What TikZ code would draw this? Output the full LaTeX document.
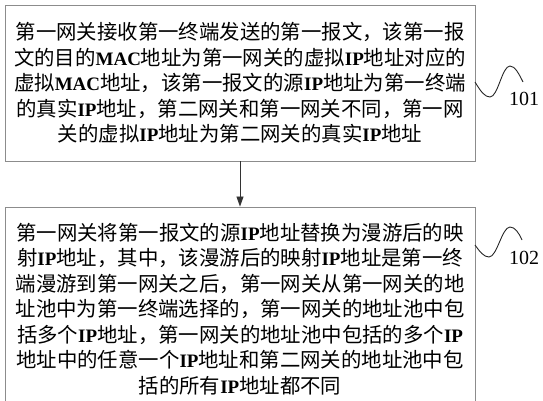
\documentclass[tikz,border=0pt]{standalone}
\usepackage{fontspec}
\setmainfont{Liberation Serif}
\newfontfamily\cjk{Noto Sans CJK SC}
\newfontfamily\enfont{Liberation Serif}
\newcommand\en[1]{{\enfont\bfseries\fontsize{19}{25.5}\selectfont #1}}
\usetikzlibrary{arrows.meta}
\definecolor{boxgray}{gray}{0.55}
\tikzset{
  stepbox/.style={draw=boxgray, line width=0.9pt, minimum width=470pt, inner sep=0pt,
    align=center, font=\cjk\fontsize{20.4}{25.5}\selectfont, text=black},
  flowarrow/.style={draw=black!80, line width=0.8pt, -{Triangle[length=10pt,width=7pt]}},
  wave/.style={draw=black!85, line width=0.9pt},
  steplabel/.style={font=\rmfamily\fontsize{20}{22}\selectfont, inner sep=0pt}
}
\begin{document}
\begin{tikzpicture}[x=1pt,y=-1pt]
\useasboundingbox (0,0) rectangle (543,400);
\node[stepbox, minimum height=156pt] (b1) at (240,83) {%
第一网关接收第一终端发送的第一报文，该第一报\\
文的目的\en{MAC}地址为第一网关的虚拟\en{IP}地址对应的\\
虚拟\en{MAC}地址，该第一报文的源\en{IP}地址为第一终端\\
的真实\en{IP}地址，第二网关和第一网关不同，第一网\\
关的虚拟\en{IP}地址为第二网关的真实\en{IP}地址};
\node[stepbox, minimum height=204pt] (b2) at (240,309) {%
第一网关将第一报文的源\en{IP}地址替换为漫游后的映\\
射\en{IP}地址，其中，该漫游后的映射\en{IP}地址是第一终\\
端漫游到第一网关之后，第一网关从第一网关的地\\
址池中为第一终端选择的，第一网关的地址池中包\\
括多个\en{IP}地址，第一网关的地址池中包括的多个\en{IP}\\
地址中的任意一个\en{IP}地址和第二网关的地址池中包\\
括的所有\en{IP}地址都不同};
\draw[flowarrow] (b1.south) -- (b2.north);
% wave marker 101
\coordinate (w1a) at (475,82);
\coordinate (w1b) at (523,82);
\node[steplabel] (l1) at (524,99) {101};
\draw[wave] (w1a) .. controls (481,92) and (485,97) .. (490,97)
  .. controls (498,97) and (502,66) .. (510,66)
  .. controls (515,66) and (519,74) .. (w1b);
% wave marker 102
\coordinate (w2a) at (475,245);
\coordinate (w2b) at (522,240);
\node[steplabel] (l2) at (524,258) {102};
\draw[wave] (w2a) .. controls (480,252) and (484,257) .. (489,257)
  .. controls (497,257) and (502,227) .. (510,227)
  .. controls (515,227) and (519,233) .. (w2b);
\end{tikzpicture}
\end{document}
